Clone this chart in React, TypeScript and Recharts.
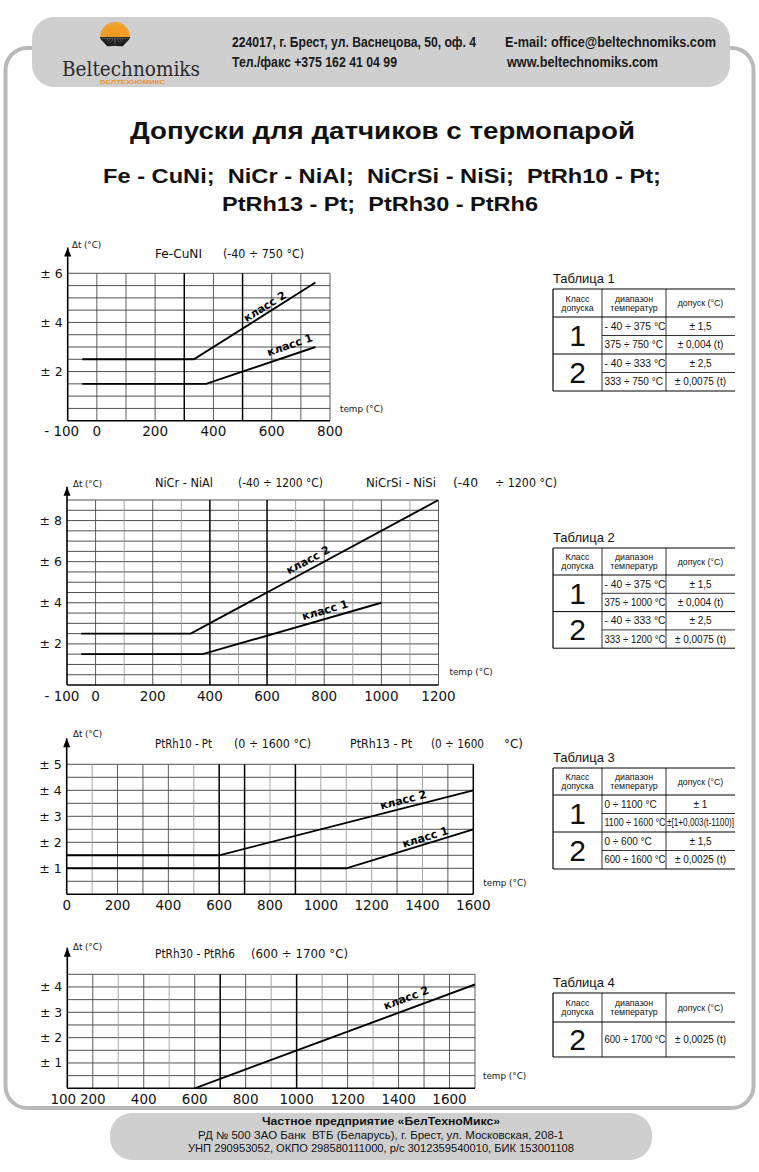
import React from 'react';
import { LineChart, Line, XAxis, YAxis, ReferenceLine, ReferenceDot } from 'recharts';

type Pt = { t: number; v: number };

// ---------- Chart 1: Fe-CuNi ----------
const c1Class1: Pt[] = [{ t: -50, v: 1.5 }, { t: 375, v: 1.5 }, { t: 750, v: 3.0 }];
const c1Class2: Pt[] = [{ t: -50, v: 2.5 }, { t: 333, v: 2.5 }, { t: 750, v: 5.625 }];
const c1XTicks = [-100, 0, 200, 400, 600, 800];
const c1YTicks = [2, 4, 6];
const c1VGrid = [0, 100, 200, 300, 400, 500, 600, 700, 800];
const c1VBold = [300, 500];
const c1VLight: number[] = [];
const c1HGrid = [0.5, 1, 1.5, 2, 2.5, 3, 3.5, 4, 4.5, 5, 5.5, 6];

// ---------- Chart 2: NiCr-NiAl / NiCrSi-NiSi ----------
const c2Class1: Pt[] = [{ t: -50, v: 1.5 }, { t: 375, v: 1.5 }, { t: 1000, v: 4.0 }];
const c2Class2: Pt[] = [{ t: -50, v: 2.5 }, { t: 333, v: 2.5 }, { t: 1200, v: 9.0 }];
const c2XTicks = [-100, 0, 200, 400, 600, 800, 1000, 1200];
const c2YTicks = [2, 4, 6, 8];
const c2VGrid = [0, 100, 200, 300, 400, 500, 600, 700, 800, 900, 1000, 1100, 1200];
const c2VBold = [400, 600];
const c2VLight = [100, 300, 500, 700, 900, 1100];
const c2HGrid = [0.5, 1, 1.5, 2, 2.5, 3, 3.5, 4, 4.5, 5, 5.5, 6, 6.5, 7, 7.5, 8, 8.5, 9];

// ---------- Chart 3: PtRh10-Pt / PtRh13-Pt ----------
const c3Class1: Pt[] = [{ t: 0, v: 1.0 }, { t: 1100, v: 1.0 }, { t: 1600, v: 2.5 }];
const c3Class2: Pt[] = [{ t: 0, v: 1.5 }, { t: 600, v: 1.5 }, { t: 1600, v: 4.0 }];
const c3XTicks = [0, 200, 400, 600, 800, 1000, 1200, 1400, 1600];
const c3YTicks = [1, 2, 3, 4, 5];
const c3VGrid = [100, 200, 300, 400, 500, 600, 700, 800, 900, 1000, 1100, 1200, 1300, 1400, 1500, 1600];
const c3VBold = [600, 700, 900, 1600];
const c3VLight = [100, 500, 800, 1000, 1100, 1200, 1400];
const c3HGrid = [0.5, 1, 1.5, 2, 2.5, 3, 3.5, 4, 4.5, 5];

// ---------- Chart 4: PtRh30-PtRh6 ----------
const c4Class2: Pt[] = [{ t: 600, v: 0 }, { t: 1700, v: 4.1 }];
const c4XTicks = [100, 200, 400, 600, 800, 1000, 1200, 1400, 1600];
const c4YTicks = [1, 2, 3, 4];
const c4VGrid = [200, 300, 400, 500, 600, 700, 800, 900, 1000, 1100, 1200, 1300, 1400, 1500, 1600, 1700];
const c4VBold = [700, 1000];
const c4VLight = [300, 500, 900, 1100, 1300];
const c4HGrid = [0.5, 1, 1.5, 2, 2.5, 3, 3.5, 4, 4.5];

// ---------- Tables ----------
type Group = { cls: string; rows: [string, string][] };
const t1Groups: Group[] = [
  { cls: '1', rows: [['- 40 ÷ 375 °C', '± 1,5'], ['375 ÷ 750 °C', '± 0,004 (t)']] },
  { cls: '2', rows: [['- 40 ÷ 333 °C', '± 2,5'], ['333 ÷ 750 °C', '± 0,0075 (t)']] },
];
const t2Groups: Group[] = [
  { cls: '1', rows: [['- 40 ÷ 375 °C', '± 1,5'], ['375 ÷ 1000 °C', '± 0,004 (t)']] },
  { cls: '2', rows: [['- 40 ÷ 333 °C', '± 2,5'], ['333 ÷ 1200 °C', '± 0,0075 (t)']] },
];
const t3Groups: Group[] = [
  { cls: '1', rows: [['0 ÷ 1100 °C', '± 1'], ['1100 ÷ 1600 °C', '±[1+0,003(t-1100)]']] },
  { cls: '2', rows: [['0 ÷ 600 °C', '± 1,5'], ['600 ÷ 1600 °C', '± 0,0025 (t)']] },
];
const t4Groups: Group[] = [{ cls: '2', rows: [['600 ÷ 1700 °C', '± 0,0025 (t)']] }];

const CF = 'DejaVu Sans, Verdana, sans-serif';
const AF = 'Liberation Sans, Arial, Helvetica, sans-serif';

type Series = { data: Pt[] };
type Lbl = { t: number; v: number; angle: number; text: string };
type Cfg = {
  top: number; height: number;
  x0: number; x1: number; y0: number; y1: number;
  xDomain: [number, number]; yDomain: [number, number];
  xTicks: number[]; yTicks: number[];
  vGrid: number[]; vBold: number[]; vLight: number[]; hGrid: number[];
  series: Series[]; labels: Lbl[]; arrowTop: number;
  tempDx: number; tempDy: number; firstShift: number;
};

const CW = 545;

function Chart({ cfg }: { cfg: Cfg }) {
  const yW = 50;
  const xH = 24;
  const margin = {
    top: cfg.y0 - cfg.top,
    left: cfg.x0 - yW,
    right: CW - cfg.x1,
    bottom: cfg.height - (cfg.y1 - cfg.top) - xH,
  };
  const [xmin, xmax] = cfg.xDomain;
  const XTick = (p: any) => {
    const v = p.payload.value as number;
    const label = v < 0 ? `- ${Math.abs(v)}` : `${v}`;
    const dx = v === xmin ? cfg.firstShift : 0;
    return (
      <text x={p.x + dx} y={p.y} dy="0.71em" textAnchor="middle" fontFamily={CF} fontSize={13.5} fill="#111">
        {label}
      </text>
    );
  };
  const YTick = (p: any) => (
    <text x={p.x} y={p.y} dy="0.355em" textAnchor="end" fontFamily={CF} fontSize={12.5} fill="#111">
      {`± ${p.payload.value}`}
    </text>
  );
  return (
    <div style={{ position: 'absolute', left: 0, top: cfg.top }}>
      <LineChart width={CW} height={cfg.height} margin={margin}>
        <XAxis
          type="number" dataKey="t" domain={cfg.xDomain} ticks={cfg.xTicks} interval={0}
          axisLine={false} tickLine={false} tickSize={4} tickMargin={2} height={xH}
          allowDataOverflow tick={XTick}
        />
        <YAxis
          type="number" dataKey="v" domain={cfg.yDomain} ticks={cfg.yTicks} interval={0}
          axisLine={false} tickLine={false} tickSize={3} tickMargin={2} width={yW}
          allowDataOverflow tick={YTick}
        />
        {cfg.hGrid.map((y) => (
          <ReferenceLine key={'h' + y} y={y} stroke="#3c3c3c" strokeWidth={0.9} />
        ))}
        {cfg.vGrid.map((x) => {
          const bold = cfg.vBold.includes(x);
          const light = cfg.vLight.includes(x);
          return (
            <ReferenceLine
              key={'v' + x} x={x}
              stroke={bold ? '#000' : light ? '#9c9c9c' : '#4a4a4a'}
              strokeWidth={bold ? 1.5 : 0.9}
            />
          );
        })}
        <ReferenceLine segment={[{ x: xmin, y: 0 }, { x: xmax, y: 0 }]} stroke="#000" strokeWidth={1.6} ifOverflow="visible" />
        <ReferenceLine segment={[{ x: xmin, y: 0 }, { x: xmin, y: cfg.arrowTop }]} stroke="#000" strokeWidth={1.6} ifOverflow="visible" />
        <ReferenceDot
          x={xmin} y={cfg.arrowTop} r={1} ifOverflow="visible"
          shape={(p: any) => (
            <path d={`M${p.cx},${p.cy} L${p.cx - 3.5},${p.cy + 9} L${p.cx + 3.5},${p.cy + 9} Z`} fill="#000" />
          )}
        />
        {cfg.series.map((s, i) => (
          <Line
            key={'s' + i} data={s.data} dataKey="v" type="linear" stroke="#000" strokeWidth={1.9}
            dot={false} activeDot={false} isAnimationActive={false}
          />
        ))}
        {cfg.labels.map((l, i) => (
          <ReferenceDot
            key={'l' + i} x={l.t} y={l.v} r={1} ifOverflow="visible"
            shape={(p: any) => (
              <text
                x={p.cx} y={p.cy} textAnchor="middle" dy="0.35em"
                transform={`rotate(${l.angle} ${p.cx} ${p.cy})`}
                fontFamily={CF} fontWeight="bold" fontSize={11} fill="#000"
              >
                {l.text}
              </text>
            )}
          />
        ))}
        <ReferenceDot
          x={xmax} y={0} r={1} ifOverflow="visible"
          shape={(p: any) => (
            <text x={p.cx + cfg.tempDx} y={p.cy + cfg.tempDy} fontFamily={CF} fontSize={8.8} fill="#111">
              temp (°C)
            </text>
          )}
        />
      </LineChart>
    </div>
  );
}

const cfg1: Cfg = {
  top: 232, height: 215, x0: 67.7, x1: 330, y0: 273.3, y1: 420.7,
  xDomain: [-100, 800], yDomain: [0, 6], xTicks: c1XTicks, yTicks: c1YTicks,
  vGrid: c1VGrid, vBold: c1VBold, vLight: c1VLight, hGrid: c1HGrid,
  series: [{ data: c1Class1 }, { data: c1Class2 }],
  labels: [
    { t: 576, v: 4.65, angle: -32, text: 'класс 2' },
    { t: 662, v: 3.09, angle: -19, text: 'класс 1' },
  ],
  arrowTop: 7.05, tempDx: 10, tempDy: -9, firstShift: -6,
};
const cfg2: Cfg = {
  top: 470, height: 240, x0: 67, x1: 438.5, y0: 500, y1: 685,
  xDomain: [-100, 1200], yDomain: [0, 9], xTicks: c2XTicks, yTicks: c2YTicks,
  vGrid: c2VGrid, vBold: c2VBold, vLight: c2VLight, hGrid: c2HGrid,
  series: [{ data: c2Class1 }, { data: c2Class2 }],
  labels: [
    { t: 743, v: 6.08, angle: -28, text: 'класс 2' },
    { t: 803, v: 3.65, angle: -16, text: 'класс 1' },
  ],
  arrowTop: 9.65, tempDx: 11, tempDy: -10, firstShift: -5,
};
const cfg3: Cfg = {
  top: 728, height: 190, x0: 66.7, x1: 473.3, y0: 764.3, y1: 894.3,
  xDomain: [0, 1600], yDomain: [0, 5], xTicks: c3XTicks, yTicks: c3YTicks,
  vGrid: c3VGrid, vBold: c3VBold, vLight: c3VLight, hGrid: c3HGrid,
  series: [{ data: c3Class1 }, { data: c3Class2 }],
  labels: [
    { t: 1324, v: 3.63, angle: -14.5, text: 'класс 2' },
    { t: 1411, v: 2.2, angle: -17, text: 'класс 1' },
  ],
  arrowTop: 6.0, tempDx: 10, tempDy: -8, firstShift: 0,
};
const cfg4: Cfg = {
  top: 938, height: 170, x0: 67.3, x1: 475, y0: 974.3, y1: 1088.3,
  xDomain: [100, 1700], yDomain: [0, 4.5], xTicks: c4XTicks, yTicks: c4YTicks,
  vGrid: c4VGrid, vBold: c4VBold, vLight: c4VLight, hGrid: c4HGrid,
  series: [{ data: c4Class2 }],
  labels: [{ t: 1430, v: 3.57, angle: -20.5, text: 'класс 2' }],
  arrowTop: 5.55, tempDx: 8, tempDy: -9, firstShift: -4,
};

function T({ x, y, w, size, bold, children, anchor, family, fill }: any) {
  return (
    <text
      x={x} y={y} textLength={w} lengthAdjust="spacingAndGlyphs" xmlSpace="preserve"
      style={{ whiteSpace: 'pre' }}
      fontSize={size} fontWeight={bold ? 'bold' : 'normal'} textAnchor={anchor || 'start'}
      fontFamily={family || AF} fill={fill || '#111'}
    >
      {children}
    </text>
  );
}

function Table({ top, title, groups, hdrH, rowH }: { top: number; title: string; groups: Group[]; hdrH: number; rowH: number }) {
  const c = [553, 602, 666, 735];
  const els: any[] = [];
  let y = top + hdrH;
  els.push(<line key="top" x1={c[0]} y1={top} x2={c[3]} y2={top} stroke="#000" strokeWidth={1} />);
  els.push(<line key="hdr" x1={c[0]} y1={y} x2={c[3]} y2={y} stroke="#000" strokeWidth={1} />);
  groups.forEach((g, gi) => {
    const gTop = y;
    g.rows.forEach((r, ri) => {
      const cy = y + rowH / 2;
      els.push(
        <text key={`r${gi}${ri}a`} x={c[1] + 2.5} y={cy + 3.6} fontFamily={AF} fontSize={10} fill="#111"
          {...(r[0].length >= 13 ? { textLength: 61, lengthAdjust: 'spacingAndGlyphs' } : {})}>{r[0]}</text>
      );
      els.push(
        <text key={`r${gi}${ri}b`} x={(c[2] + c[3]) / 2} y={cy + 3.6} textAnchor="middle" fontFamily={AF} fontSize={10} fill="#111"
          {...(r[1].length > 14 ? { textLength: 67, lengthAdjust: 'spacingAndGlyphs' } : {})}>{r[1]}</text>
      );
      y += rowH;
      if (ri < g.rows.length - 1) {
        els.push(<line key={`l${gi}${ri}`} x1={c[1]} y1={y} x2={c[3]} y2={y} stroke="#000" strokeWidth={0.8} />);
      }
    });
    els.push(<line key={`g${gi}`} x1={c[0]} y1={y} x2={c[3]} y2={y} stroke="#000" strokeWidth={1} />);
    els.push(
      <text key={`c${gi}`} x={(c[0] + c[1]) / 2} y={(gTop + y) / 2 + 10.5} textAnchor="middle" fontFamily={AF} fontSize={30} fill="#111">{g.cls}</text>
    );
  });
  const bottom = y;
  [c[0], c[1], c[2]].forEach((xx, i) => {
    els.push(<line key={'vc' + i} x1={xx} y1={top} x2={xx} y2={bottom} stroke="#000" strokeWidth={i === 0 ? 1.2 : 0.8} />);
  });
  const hm = top + hdrH / 2;
  return (
    <g>
      <text x={553} y={top - 6} fontFamily={AF} fontSize={13} fill="#111">{title}</text>
      <text x={(c[0] + c[1]) / 2} y={hm - 1.5} textAnchor="middle" fontFamily={AF} fontSize={8.8} fill="#111">Класс</text>
      <text x={(c[0] + c[1]) / 2} y={hm + 7.5} textAnchor="middle" fontFamily={AF} fontSize={8.8} fill="#111">допуска</text>
      <text x={(c[1] + c[2]) / 2} y={hm - 1.5} textAnchor="middle" fontFamily={AF} fontSize={8.8} fill="#111">диапазон</text>
      <text x={(c[1] + c[2]) / 2} y={hm + 7.5} textAnchor="middle" fontFamily={AF} fontSize={8.8} fill="#111">температур</text>
      <text x={(c[2] + c[3]) / 2} y={hm + 3} textAnchor="middle" fontFamily={AF} fontSize={8.8} fill="#111">допуск (°C)</text>
      {els}
    </g>
  );
}

function Logo() {
  const cx = 115;
  const cy = 37;
  const rays: any[] = [];
  for (let i = 0; i <= 24; i++) {
    const a = Math.PI + (i / 24) * Math.PI;
    rays.push(
      <line key={'o' + i} x1={cx + Math.cos(a) * 7} y1={cy + Math.sin(a) * 7} x2={cx + Math.cos(a) * 15} y2={cy + Math.sin(a) * 15}
        stroke="#f39a1e" strokeWidth={1.6} />
    );
  }
  const dark: any[] = [];
  for (let i = 0; i <= 16; i++) {
    const xt = cx - 14 + (i / 16) * 28;
    const xb = cx - 7 + (i / 16) * 14;
    dark.push(<line key={'d' + i} x1={xt} y1={cy + 1.5} x2={xb} y2={cy + 9} stroke="#1a1a1a" strokeWidth={1.4} />);
  }
  return (
    <g>
      <path d={`M${cx - 7},${cy} A7,7 0 0 1 ${cx + 7},${cy} Z`} fill="#f39a1e" />
      {rays}
      {dark}
      <line x1={cx - 15} y1={cy + 0.8} x2={cx + 15} y2={cy + 0.8} stroke="#1a1a1a" strokeWidth={1.4} />
      <T x={62} y={76} w={138} size={21} family="DejaVu Serif, serif" fill="#2a2a2a">Beltechnomiks</T>
      <T x={100} y={84} w={65} size={5} bold fill="#e8962e">БЕЛТЕХНОМИКС</T>
    </g>
  );
}

export default function App() {
  const NF = 'Liberation Sans Narrow, Liberation Sans, Arial, sans-serif';
  return (
    <div style={{ position: 'absolute', left: 0, top: 0, width: 759, height: 1172, background: '#fff', overflow: 'hidden' }}>
      <svg width={759} height={1172} style={{ position: 'absolute', left: 0, top: 0 }}>
        <rect x={5.5} y={48} width={748} height={1060} rx={22} fill="none" stroke="#b9b9b9" strokeWidth={4} />
        <rect x={32} y={17} width={698} height={70} rx={22} fill="#cfcfcf" />
        <Logo />
        <T x={232} y={47} w={244} size={14} bold family={NF} fill="#1a1a1a">224017, г. Брест, ул. Васнецова, 50, оф. 4</T>
        <T x={232} y={67} w={165} size={14} bold family={NF} fill="#1a1a1a">Тел./факс +375 162 41 04 99</T>
        <T x={505} y={47} w={211} size={14} bold family={NF} fill="#1a1a1a">E-mail: office@beltechnomiks.com</T>
        <T x={507} y={67} w={151} size={14} bold family={NF} fill="#1a1a1a">www.beltechnomiks.com</T>

        <T x={130} y={139} w={505} size={24} bold fill="#111">Допуски для датчиков с термопарой</T>
        <T x={103} y={183} w={558} size={21} bold fill="#111">Fe - CuNi;  NiCr - NiAl;  NiCrSi - NiSi;  PtRh10 - Pt;</T>
        <T x={222} y={211} w={316} size={21} bold fill="#111">PtRh13 - Pt;  PtRh30 - PtRh6</T>

        {/* chart 1 titles */}
        <T x={72} y={248} w={29} size={9} family={CF}>Δt (°C)</T>
        <T x={155} y={258} w={47} size={12} family={CF}>Fe-CuNI</T>
        <T x={223} y={258} w={81} size={12} family={CF}>(-40 ÷ 750 °C)</T>
        {/* chart 2 titles */}
        <T x={73} y={487} w={29} size={9} family={CF}>Δt (°C)</T>
        <T x={155} y={487} w={58} size={12} family={CF}>NiCr - NiAl</T>
        <T x={238} y={487} w={85} size={12} family={CF}>(-40 ÷ 1200 °C)</T>
        <T x={366} y={487} w={70} size={12} family={CF}>NiCrSi - NiSi</T>
        <T x={453} y={487} w={25} size={12} family={CF}>(-40</T>
        <T x={495} y={487} w={62} size={12} family={CF}>÷ 1200 °C)</T>
        {/* chart 3 titles */}
        <T x={73} y={737} w={29} size={9} family={CF}>Δt (°C)</T>
        <T x={155} y={748} w={57} size={12} family={CF}>PtRh10 - Pt</T>
        <T x={234} y={748} w={77} size={12} family={CF}>(0 ÷ 1600 °C)</T>
        <T x={350} y={748} w={62} size={12} family={CF}>PtRh13 - Pt</T>
        <T x={431} y={748} w={53} size={12} family={CF}>(0 ÷ 1600</T>
        <T x={504} y={748} w={19} size={12} family={CF}>°C)</T>
        {/* chart 4 titles */}
        <T x={73} y={950} w={29} size={9} family={CF}>Δt (°C)</T>
        <T x={155} y={958} w={80} size={12} family={CF}>PtRh30 - PtRh6</T>
        <T x={251} y={958} w={97} size={12} family={CF}>(600 ÷ 1700 °C)</T>

        <Table top={289} title="Таблица 1" groups={t1Groups} hdrH={28} rowH={18.5} />
        <Table top={548} title="Таблица 2" groups={t2Groups} hdrH={27} rowH={18.3} />
        <Table top={768} title="Таблица 3" groups={t3Groups} hdrH={27} rowH={18.5} />
        <Table top={993} title="Таблица 4" groups={t4Groups} hdrH={29} rowH={35} />

        <rect x={110} y={1113} width={542} height={47} rx={22} fill="#cfcfcf" />
        <T x={381} y={1125} w={238} size={11} bold anchor="middle">Частное предприятие «БелТехноМикс»</T>
        <T x={381} y={1139} w={366} size={10.5} anchor="middle">РД № 500 ЗАО Банк  ВТБ (Беларусь), г. Брест, ул. Московская, 208-1</T>
        <T x={381} y={1152} w={386} size={10.5} anchor="middle">УНП 290953052, ОКПО 298580111000, р/с 3012359540010, БИК 153001108</T>
      </svg>
      <Chart cfg={cfg1} />
      <Chart cfg={cfg2} />
      <Chart cfg={cfg3} />
      <Chart cfg={cfg4} />
    </div>
  );
}
